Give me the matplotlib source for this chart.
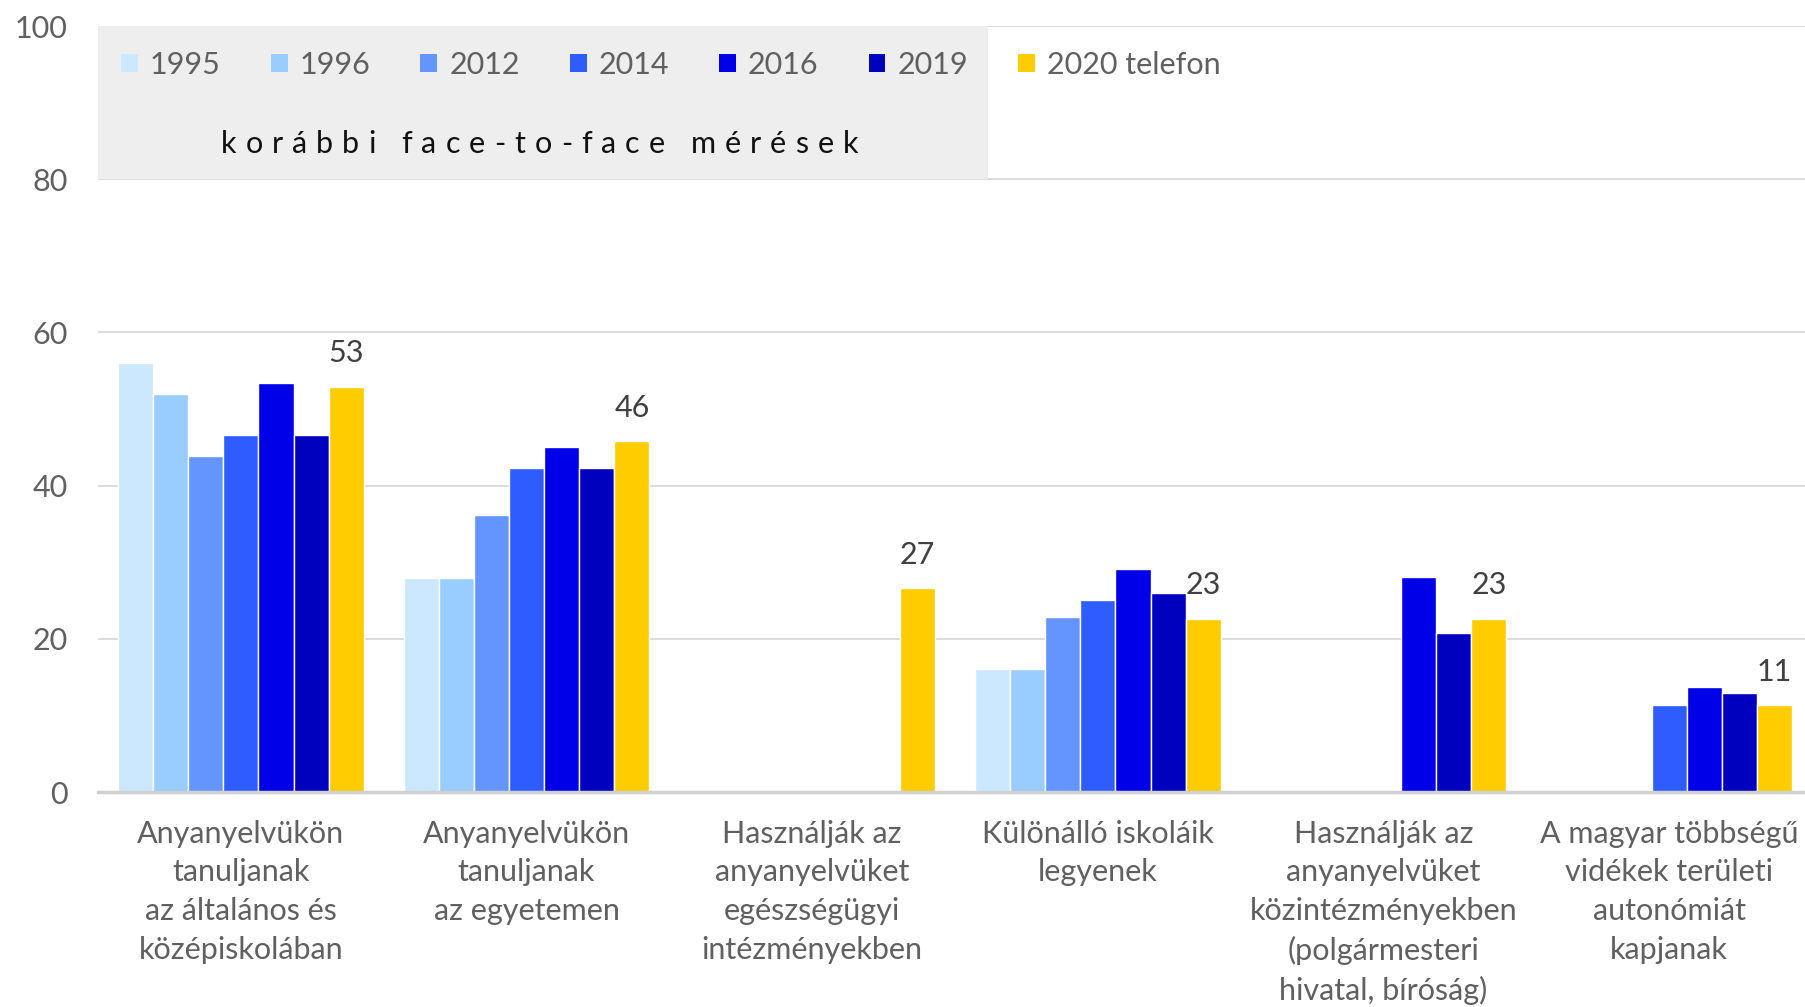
import matplotlib
matplotlib.use("Agg")
import matplotlib.pyplot as plt
import numpy as np
from matplotlib.font_manager import FontProperties
from matplotlib.textpath import TextToPath
from matplotlib.transforms import blended_transform_factory
from matplotlib.patches import Rectangle

nan = np.nan

categories = [
    "Anyanyelvükön\ntanuljanak\naz általános és\nközépiskolában",
    "Anyanyelvükön\ntanuljanak\naz egyetemen",
    "Használják az\nanyanyelvüket\negészségügyi\nintézményekben",
    "Különálló iskoláik\nlegyenek",
    "Használják az\nanyanyelvüket\nközintézményekben\n(polgármesteri\nhivatal, bíróság)",
    "A magyar többségű\nvidékek területi\nautonómiát\nkapjanak",
]
years = ["1995", "1996", "2012", "2014", "2016", "2019", "2020 telefon"]
v1995 = [56.0, 28.0, nan, 16.0, nan, nan]
v1996 = [52.0, 28.0, nan, 16.0, nan, nan]
v2012 = [43.8, 36.2, nan, 22.8, nan, nan]
v2014 = [46.6, 42.3, nan, 25.1, nan, 11.3]
v2016 = [53.4, 45.0, nan, 29.1, 28.1, 13.7]
v2019 = [46.6, 42.3, nan, 26.0, 20.7, 12.9]
v2020 = [52.9, 45.8, 26.6, 22.6, 22.6, 11.3]
note = "korábbi face-to-face mérések"

series = [v1995, v1996, v2012, v2014, v2016, v2019, v2020]
colors = ["#CCE8FF", "#99CCFF", "#6495FF", "#2E5CFF", "#0000E8", "#0000BF", "#FFCC00"]

FONT = ["Lato", "DejaVu Sans"]
plt.rcParams["font.family"] = FONT
FS = 22
GRAY = "#606060"

fig = plt.figure(figsize=(18.06, 10.07), dpi=100)
W, H = 1806, 1007
ax = fig.add_axes([98 / W, 215 / H, (1812 - 98) / W, (981 - 215) / H])

x = np.arange(len(categories))
width = 0.123
for i, (vals, c, lab) in enumerate(zip(series, colors, years)):
    rects = ax.bar(x + (i - 3) * width, vals, width, color=c, label=lab,
                   edgecolor="white", linewidth=1, zorder=3)
    if i == len(series) - 1:
        ax.bar_label(rects, fmt="%.0f", padding=14, fontsize=FS, color="#404040")

ax.set_xlim(-0.5, len(categories) - 0.5)
ax.set_ylim(0, 100)
ax.set_yticks([0, 20, 40, 60, 80, 100])
ax.grid(axis="y", color="#D9D9D9", linewidth=1.3, zorder=0)
ax.set_axisbelow(True)
for s in ["top", "right", "left"]:
    ax.spines[s].set_visible(False)
ax.spines["bottom"].set_color("#D0D0D0")
ax.spines["bottom"].set_linewidth(2.5)
ax.spines["bottom"].set_zorder(4)
ax.set_xticks(x, categories)
ax.tick_params(axis="both", length=0, labelsize=FS, labelcolor=GRAY)
ax.tick_params(axis="y", pad=22)
ax.tick_params(axis="x", pad=20)
for t in ax.get_xticklabels():
    t.set_linespacing(1.46)

# grey panel behind the face-to-face years
trans = blended_transform_factory(ax.transAxes, ax.transData)
ax.add_patch(Rectangle((0, 80), (988 - 98) / (1812 - 98), 20, transform=trans,
                       facecolor="#EEEEEE", edgecolor="none", zorder=1))

leg = fig.legend(loc="center left", bbox_to_anchor=(121 / W, 942 / H), ncol=7,
                 frameon=False, fontsize=FS, handlelength=0.55, handleheight=0.55,
                 handletextpad=0.4, columnspacing=1.63, borderpad=0,
                 borderaxespad=0)
for t in leg.get_texts():
    t.set_color(GRAY)
for h in leg.legend_handles:
    h.set_linewidth(0)

# letter-spaced note
fp = FontProperties(family=FONT, size=FS)
ttp = TextToPath()
widths = []
for ch in note:
    if ch == " ":
        widths.append(0.26 * FS)
    else:
        widths.append(ttp.get_text_width_height_descent(ch, fp, ismath=False)[0])
target = (858 - 221) * 72 / 100
track = (target - sum(widths)) / (len(note) - 1)
pos = 0.0
for ch, w in zip(note, widths):
    fig.text((221 + pos * 100 / 72) / W, 854 / H, ch, fontsize=FS, color="#111111",
             ha="left", va="baseline")
    pos += w + track

fig.savefig("out.png", dpi=100)
